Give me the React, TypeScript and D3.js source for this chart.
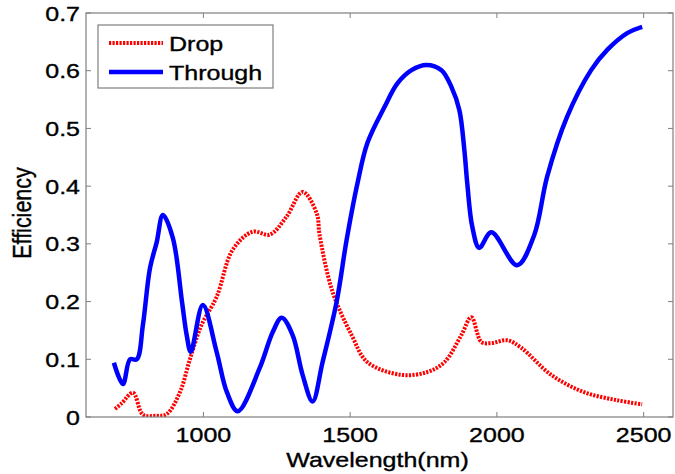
import React from "react";
import * as d3 from "d3";

const throughWl = [695, 726, 750, 773, 794, 818, 841, 862, 896, 927, 943, 957, 998, 1045, 1080, 1117, 1192, 1236, 1267, 1304, 1338, 1372, 1406, 1454, 1488, 1525, 1559, 1617, 1661, 1709, 1760, 1811, 1845, 1872, 1889, 1899, 1916, 1940, 1981, 2069, 2127, 2171, 2239, 2321, 2376, 2444, 2495];
const throughEff = [0.094, 0.057, 0.1, 0.1, 0.16, 0.258, 0.303, 0.35, 0.31, 0.2, 0.142, 0.113, 0.194, 0.113, 0.043, 0.01, 0.085, 0.147, 0.172, 0.142, 0.073, 0.027, 0.095, 0.2, 0.307, 0.405, 0.475, 0.537, 0.578, 0.601, 0.61, 0.601, 0.572, 0.532, 0.463, 0.405, 0.33, 0.293, 0.32, 0.263, 0.315, 0.416, 0.52, 0.601, 0.636, 0.665, 0.676];

const dropWl = [699, 722, 760, 794, 835, 875, 920, 954, 994, 1045, 1100, 1168, 1226, 1283, 1338, 1386, 1396, 1440, 1505, 1559, 1675, 1763, 1821, 1879, 1913, 1947, 1981, 2035, 2083, 2185, 2297, 2410, 2495];
const dropEff = [0.014, 0.024, 0.042, 0.004, 0.002, 0.005, 0.043, 0.1, 0.16, 0.208, 0.29, 0.321, 0.316, 0.347, 0.39, 0.353, 0.315, 0.217, 0.142, 0.095, 0.073, 0.078, 0.095, 0.142, 0.173, 0.13, 0.128, 0.133, 0.12, 0.073, 0.043, 0.029, 0.022];

const xTicks = [1000, 1500, 2000, 2500];
const yTicks = [0, 0.1, 0.2, 0.3, 0.4, 0.5, 0.6, 0.7];

const W = 675, H = 474;
const L = 86, R = 673, T = 13, B = 417;
const SX = 1.22;
const FONT = "Liberation Sans, Arial, sans-serif";

export default function App() {
  const x = d3.scaleLinear().domain([600, 2600]).range([L, R]);
  const y = d3.scaleLinear().domain([0, 0.7]).range([B, T]);
  const line = d3.line<[number, number]>().x(d => x(d[0])).y(d => y(d[1])).curve(d3.curveCatmullRom.alpha(0.5));
  const thr = line(throughWl.map((w, i) => [w, throughEff[i]]) as [number, number][]) || "";
  const drp = line(dropWl.map((w, i) => [w, dropEff[i]]) as [number, number][]) || "";
  const axisColor = "#7f7f7f";
  const txt = { fill: "#000", stroke: "#000", strokeWidth: 0.35 };
  return (
    <svg width={W} height={H} style={{ position: "absolute", left: 0, top: 0, background: "#fff" }} fontFamily={FONT}>
      <rect x={0} y={0} width={W} height={H} fill="#fff" />
      <defs>
        <clipPath id="plot"><rect x={L} y={T} width={R - L} height={B - T} /></clipPath>
      </defs>
      <g clipPath="url(#plot)">
        <path d={drp} fill="none" stroke="#ff0000" strokeWidth={4} strokeDasharray="2.2,1.3" />
        <path d={thr} fill="none" stroke="#0000ff" strokeWidth={4.5} strokeLinejoin="round" />
      </g>
      <rect x={L} y={T} width={R - L} height={B - T} fill="none" stroke={axisColor} strokeWidth={1.2} />
      {xTicks.map(t => (
        <g key={"x" + t}>
          <line x1={x(t)} x2={x(t)} y1={B} y2={B - 5} stroke={axisColor} />
          <line x1={x(t)} x2={x(t)} y1={T} y2={T + 5} stroke={axisColor} />
          <text transform={`translate(${x(t)},${442}) scale(${SX},1)`} textAnchor="middle" fontSize={20.5} {...txt}>{t}</text>
        </g>
      ))}
      {yTicks.map(t => (
        <g key={"y" + t}>
          <line x1={L} x2={L + 5} y1={y(t)} y2={y(t)} stroke={axisColor} />
          <line x1={R} x2={R - 5} y1={y(t)} y2={y(t)} stroke={axisColor} />
          <text transform={`translate(${80},${y(t) + 7.5}) scale(${SX},1)`} textAnchor="end" fontSize={20.5} {...txt}>{t === 0 ? "0" : t.toFixed(1)}</text>
        </g>
      ))}
      <text transform={`translate(${(L + R) / 2 - 2},${467}) scale(${SX},1)`} textAnchor="middle" fontSize={20.5} {...txt}>Wavelength(nm)</text>
      <text transform={`translate(${31},${213}) scale(${SX},1) rotate(-90)`} textAnchor="middle" fontSize={21.5} {...txt}>Efficiency</text>
      <rect x={98} y={25} width={175} height={63} fill="#fff" stroke={axisColor} strokeWidth={1.2} />
      <line x1={109} x2={163} y1={43} y2={43} stroke="#ff0000" strokeWidth={4} strokeDasharray="2.2,1.3" />
      <line x1={109} x2={163} y1={72} y2={72} stroke="#0000ff" strokeWidth={4.5} />
      <text transform={`translate(${169},${50.5}) scale(${SX},1)`} fontSize={20.5} {...txt}>Drop</text>
      <text transform={`translate(${169},${79.5}) scale(${SX},1)`} fontSize={20.5} {...txt}>Through</text>
    </svg>
  );
}
